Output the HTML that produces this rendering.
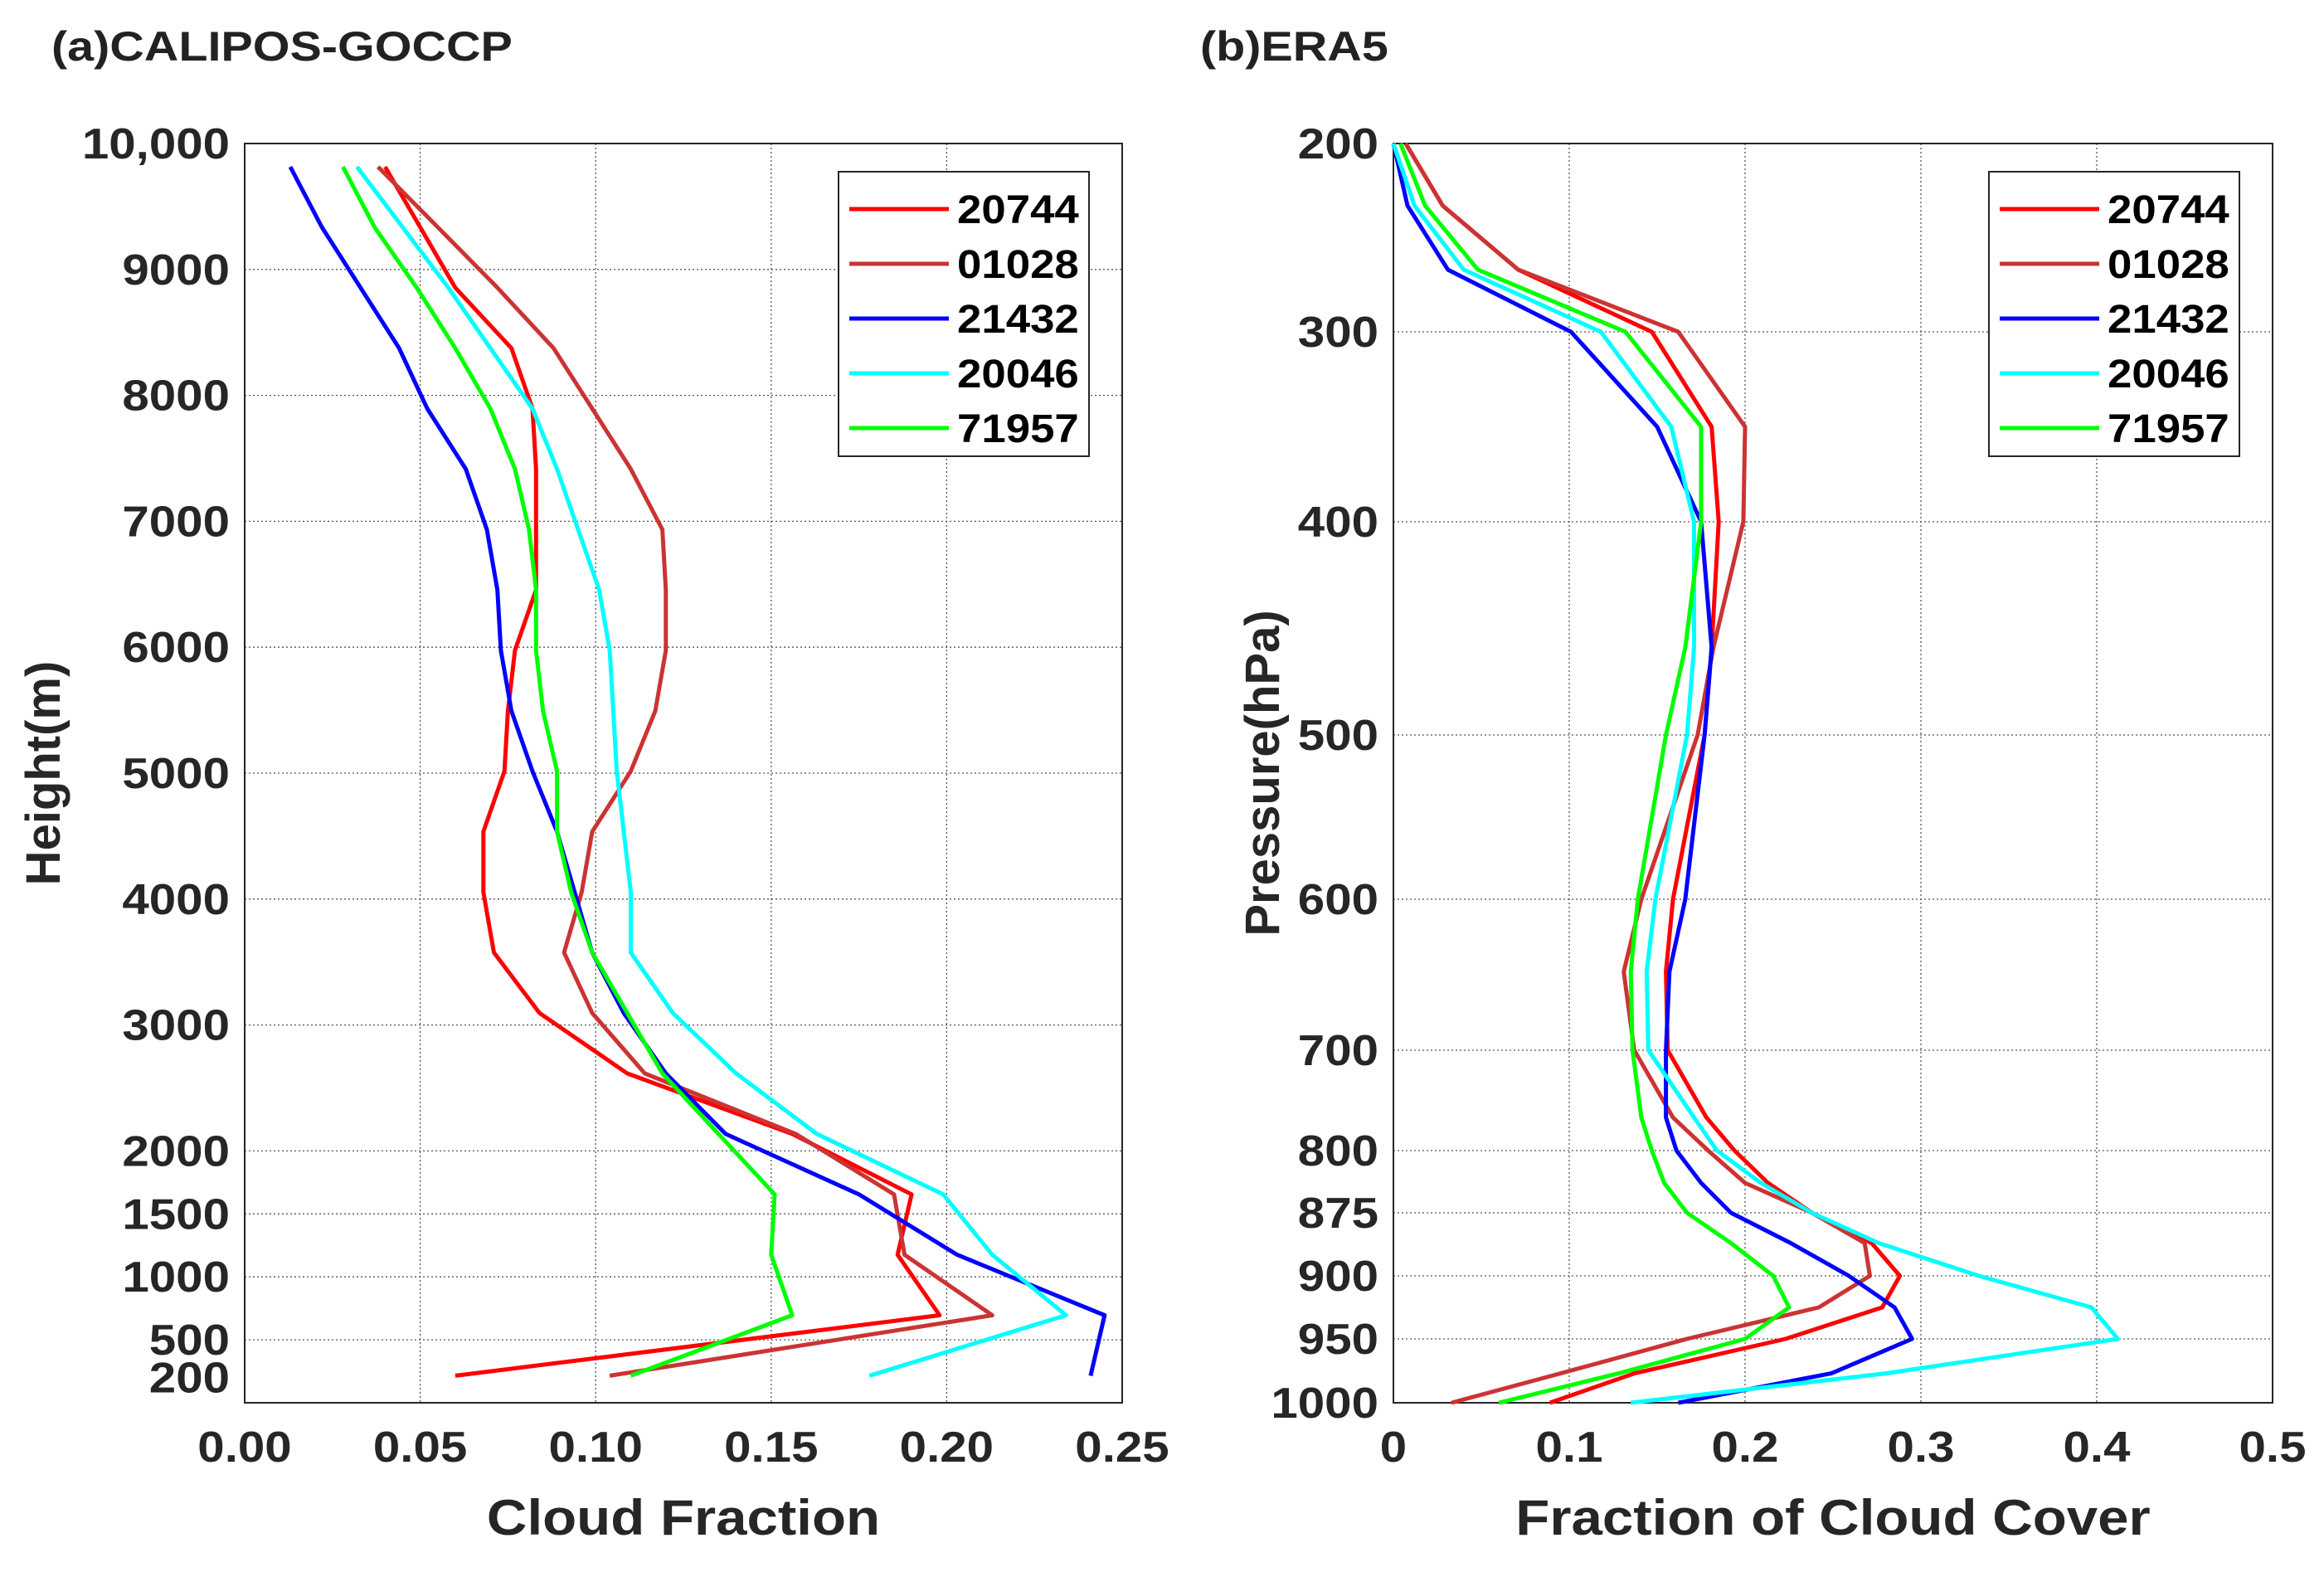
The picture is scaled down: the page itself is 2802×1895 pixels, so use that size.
<!DOCTYPE html>
<html><head><meta charset="utf-8">
<style>
html,body{margin:0;padding:0;background:#fff;}
svg{display:block;font-family:"Liberation Sans",Arial,sans-serif;font-weight:bold;}
</style></head>
<body>
<svg id="fig" width="2802" height="1895" viewBox="0 0 2802 1895" xmlns="http://www.w3.org/2000/svg">
<rect x="0" y="0" width="2802" height="1895" fill="#fff"/>
<text id="ta" x="62" y="73" font-size="50" fill="#222">(a)CALIPOS-GOCCP</text>
<text id="tb" x="1447" y="73" font-size="50" fill="#222">(b)ERA5</text>
<g id="pa"></g>
<g id="pb"></g>
</svg>
<script>
// ---------- Panel A data ----------
const aHeights = [215,695,1175,1655,2135,2615,3095,3575,4055,4535,5015,5495,5975,6455,6935,7415,7895,8375,8855,9335,9815];
const a20744 = [0.060,0.198,0.186,0.190,0.156,0.109,0.084,0.071,0.068,0.068,0.074,0.075,0.077,0.083,0.083,0.083,0.082,0.076,0.060,0.050,0.040];
const a01028 = [0.104,0.213,0.188,0.185,0.157,0.114,0.099,0.091,0.096,0.099,0.110,0.117,0.120,0.120,0.119,0.110,0.099,0.088,0.072,0.055,0.038];
const a21432 = [0.241,0.245,0.203,0.175,0.137,0.120,0.108,0.099,0.094,0.089,0.082,0.076,0.073,0.072,0.069,0.063,0.052,0.044,0.033,0.022,0.013];
const a20046 = [0.178,0.234,0.213,0.199,0.163,0.140,0.122,0.110,0.110,0.108,0.106,0.105,0.104,0.101,0.095,0.089,0.082,0.070,0.058,0.045,0.032];
const a71957 = [0.110,0.156,0.150,0.151,0.135,0.119,0.109,0.099,0.093,0.089,0.089,0.085,0.083,0.083,0.081,0.077,0.070,0.060,0.049,0.037,0.028];
const aYTicks = [200,500,1000,1500,2000,3000,4000,5000,6000,7000,8000,9000,10000];
const aYLabels = ["200","500","1000","1500","2000","3000","4000","5000","6000","7000","8000","9000","10,000"];
const aXTicks = [0,0.05,0.10,0.15,0.20,0.25];
const aXLabels = ["0.00","0.05","0.10","0.15","0.20","0.25"];
// ---------- Panel B data ----------
const bPressure = [200,233,267,300,350,400,459,500,600,648,700,767,800,839,875,887,900,925,950,977,1000];
const b20744 = [0.007,0.028,0.071,0.147,0.181,0.185,0.181,0.177,0.159,0.155,0.156,0.178,0.194,0.213,0.238,0.272,0.288,0.278,0.223,0.137,0.089];
const b01028 = [0.007,0.028,0.071,0.162,0.200,0.199,0.182,0.173,0.141,0.131,0.137,0.159,0.179,0.200,0.238,0.268,0.271,0.242,0.167,0.095,0.033];
const b21432 = [0.000,0.008,0.031,0.101,0.150,0.175,0.181,0.177,0.166,0.157,0.155,0.155,0.161,0.175,0.192,0.226,0.259,0.285,0.295,0.249,0.162];
const b20046 = [0.000,0.012,0.040,0.118,0.158,0.171,0.171,0.167,0.149,0.144,0.145,0.171,0.184,0.209,0.238,0.276,0.333,0.397,0.412,0.280,0.135];
const b71957 = [0.004,0.018,0.048,0.132,0.175,0.175,0.166,0.155,0.139,0.135,0.136,0.141,0.147,0.154,0.167,0.192,0.216,0.225,0.200,0.128,0.060];
const bYTicks = [200,300,400,500,600,700,800,875,900,950,1000];
const bYLabels = ["200","300","400","500","600","700","800","875","900","950","1000"];
const bXTicks = [0,0.1,0.2,0.3,0.4,0.5];
const bXLabels = ["0","0.1","0.2","0.3","0.4","0.5"];
const seriesNames = ["20744","01028","21432","20046","71957"];
const seriesColors = ["#ff0000","#cc3333","#0000ff","#00ffff","#00ff00"];

const NS="http://www.w3.org/2000/svg";
function mk(parent,tag,attrs,text){const e=document.createElementNS(NS,tag);for(const k in attrs)e.setAttribute(k,attrs[k]);if(text!==undefined)e.textContent=text;parent.appendChild(e);return e;}
function widen(el,f){const w=el.getComputedTextLength();el.setAttribute('textLength',(w*f).toFixed(1));el.setAttribute('lengthAdjust','spacingAndGlyphs');}

const yTop=173,yBot=1691;
const bTickPix=[173,400,629,886,1084,1266,1387,1462,1538,1614,1691];

function drawPanel(g,L,R,xMax,yFn,xTicks,xLabels,yTicks,yLabels,levels,series,xTitle,yTitle,yTitleX,legX,tag){
  const xFn=v=>L+(v/xMax)*(R-L);
  xTicks.forEach((t,i)=>{const x=xFn(t);
    if(i>0&&i<xTicks.length-1){const ln=mk(g,'line',{x1:x,y1:yTop,x2:x,y2:yBot,stroke:'#555','stroke-width':1.3,'stroke-dasharray':'2,3'});
    
    }
    const tx=mk(g,'text',{x:x,y:1762,'font-size':52,'text-anchor':'middle',fill:'#262626'},xLabels[i]);
    
    
    widen(tx,1.12);
  });
  yTicks.forEach((t,i)=>{const y=yFn(t);
    if(i>0&&i<yTicks.length-1){const ln=mk(g,'line',{x1:L,y1:y,x2:R,y2:y,stroke:'#555','stroke-width':1.3,'stroke-dasharray':'2,3'});
    
    }
    const tx=mk(g,'text',{x:L-18,y:y+18,'font-size':52,'text-anchor':'end',fill:'#262626'},yLabels[i]);
    
    
    widen(tx,1.12);
  });
  const box=mk(g,'rect',{x:L,y:yTop,width:R-L,height:yBot-yTop,fill:'none',stroke:'#262626','stroke-width':2});
  
  
  series.forEach((s,k)=>{
    const pts=s.map((v,i)=>xFn(v).toFixed(1)+','+yFn(levels[i]).toFixed(1)).join(' ');
    const pl=mk(g,'polyline',{points:pts,fill:'none',stroke:seriesColors[k],'stroke-width':5,'stroke-linejoin':'round'});
    
    
  });
  const xt=mk(g,'text',{x:(L+R)/2,y:1850,'font-size':60,'text-anchor':'middle',fill:'#262626'},xTitle);
  
  
  widen(xt,1.12);
  const yt=mk(g,'text',{x:0,y:0,'font-size':58,'text-anchor':'middle',fill:'#262626',transform:'translate('+yTitleX+','+((yTop+yBot)/2)+') rotate(-90)'},yTitle);
  
  
  const lg=mk(g,'g',{});
  
  
  const lb=mk(lg,'rect',{x:legX,y:207,width:302,height:343,fill:'#fff',stroke:'#262626','stroke-width':2});
  
  
  seriesNames.forEach((n,k)=>{const y=252+k*66;
    const ll=mk(lg,'line',{x1:legX+13,y1:y,x2:legX+133,y2:y,stroke:seriesColors[k],'stroke-width':5});
    
    
    const lt=mk(lg,'text',{x:legX+143,y:y+17,'font-size':48,fill:'#000'},n);
    
    
    widen(lt,1.1);
  });
}
const yA=h=>yBot-(h/10000)*(yBot-yTop);
function yB(p){
  for(let i=0;i<bYTicks.length-1;i++){
    if(p<=bYTicks[i+1]){const f=(p-bYTicks[i])/(bYTicks[i+1]-bYTicks[i]);return bTickPix[i]+f*(bTickPix[i+1]-bTickPix[i]);}
  }
  return bTickPix[bTickPix.length-1];
}
widen(document.getElementById('ta'),1.15);
widen(document.getElementById('tb'),1.15);
drawPanel(document.getElementById('pa'),295,1353,0.25,yA,aXTicks,aXLabels,aYTicks,aYLabels,aHeights,[a20744,a01028,a21432,a20046,a71957],'Cloud Fraction','Height(m)',72,1011,'a');
drawPanel(document.getElementById('pb'),1680,2740,0.5,yB,bXTicks,bXLabels,bYTicks,bYLabels,bPressure,[b20744,b01028,b21432,b20046,b71957],'Fraction of Cloud Cover','Pressure(hPa)',1542,2398,'b');
</script>
</body></html>
